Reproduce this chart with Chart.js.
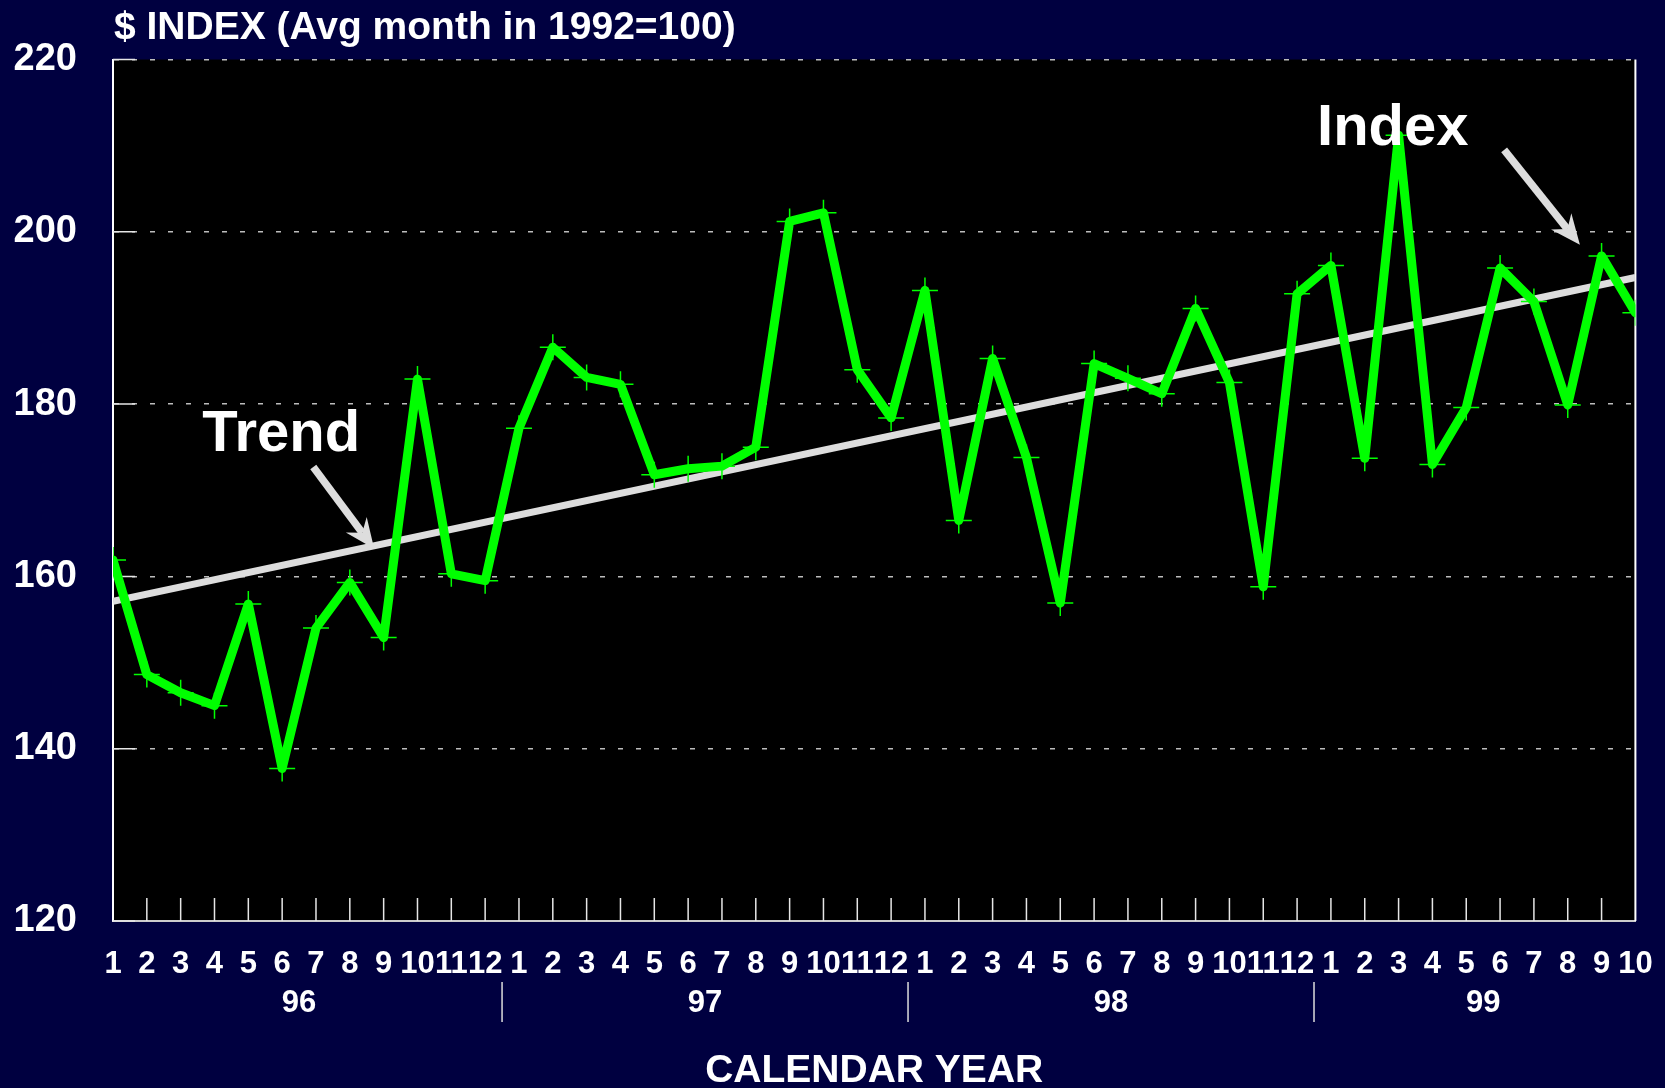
<!DOCTYPE html>
<html lang="en">
<head>
  <meta charset="utf-8">
  <title>$ INDEX</title>
  <script src="https://cdn.jsdelivr.net/npm/chart.js@4.4.1/dist/chart.umd.min.js"></script>
  <style>
    html, body { margin: 0; padding: 0; background: #000040; }
    #wrap { width: 1665px; height: 1088px; }
  </style>
</head>
<body>
<div id="wrap"><canvas id="grafico" width="1665" height="1088"></canvas></div>
<script>
// month number under each point, Jan 96 .. Oct 99
const monthLabels = [
  '1','2','3','4','5','6','7','8','9','10','11','12',
  '1','2','3','4','5','6','7','8','9','10','11','12',
  '1','2','3','4','5','6','7','8','9','10','11','12',
  '1','2','3','4','5','6','7','8','9','10'
];
const yearLabels = ['96', '97', '98', '99'];

// monthly $ index (avg month in 1992 = 100)
const indexValues = [
  161.9, 148.6, 146.5, 145.0, 156.8, 137.7, 154.0, 159.3, 152.9, 182.9, 160.3, 159.5,
  177.2, 186.6, 183.1, 182.3, 171.8, 172.5, 172.8, 175.0, 201.2, 202.2, 184.0, 178.4,
  193.2, 166.5, 185.3, 173.8, 156.9, 184.7, 183.0, 181.2, 191.1, 182.5, 158.8, 192.8,
  196.1, 173.7, 211.2, 173.0, 179.6, 195.8, 191.9, 179.9, 197.2, 190.6
];

// straight trend line, first and last month
const trendStart = 157.1;
const trendEnd = 194.7;

const yTicks = [120, 140, 160, 180, 200, 220];

const FONT = "'Liberation Sans', Arial, Helvetica, sans-serif";

// callouts, placed in axis units (month index, index value)
const callouts = [
  { text: 'Trend', at: [2.64, 174.6], tail: [5.92, 172.7], tip: [7.72, 163.2] },
  { text: 'Index', at: [35.59, 210.1], tail: [41.12, 209.5], tip: [43.36, 198.5] }
];

function drawArrow(ctx, x1, y1, x2, y2) {
  const ang = Math.atan2(y2 - y1, x2 - x1);
  const len = 30, half = 13, notch = 10;
  const bx = x2 - Math.cos(ang) * len, by = y2 - Math.sin(ang) * len;
  const nx = x2 - Math.cos(ang) * (len - notch), ny = y2 - Math.sin(ang) * (len - notch);
  ctx.lineWidth = 7.5;
  ctx.beginPath();
  ctx.moveTo(x1, y1);
  ctx.lineTo(nx, ny);
  ctx.stroke();
  ctx.beginPath();
  ctx.moveTo(x2, y2);
  ctx.lineTo(bx + Math.sin(ang) * half, by - Math.cos(ang) * half);
  ctx.lineTo(nx, ny);
  ctx.lineTo(bx - Math.sin(ang) * half, by + Math.cos(ang) * half);
  ctx.closePath();
  ctx.fill();
}

const decor = {
  id: 'decor',
  beforeDraw(chart) {
    const { ctx, chartArea: a } = chart;
    ctx.save();
    ctx.fillStyle = '#000040';
    ctx.fillRect(0, 0, chart.width, chart.height);
    ctx.fillStyle = '#000000';
    ctx.fillRect(a.left, a.top, a.right - a.left, a.bottom - a.top);
    ctx.restore();
  },
  beforeDatasetsDraw(chart) {
    const { ctx, chartArea: a, scales: { x, y } } = chart;
    ctx.save();
    ctx.strokeStyle = '#e6e6e6';
    ctx.lineWidth = 1.5;
    ctx.beginPath();
    // month ticks rising from the bottom edge
    for (let i = 1; i < monthLabels.length - 1; i++) {
      const px = x.getPixelForValue(i);
      ctx.moveTo(px, a.bottom);
      ctx.lineTo(px, a.bottom - 23);
    }
    // short solid ticks on the left edge
    yTicks.forEach(v => {
      const py = y.getPixelForValue(v);
      ctx.moveTo(a.left, py);
      ctx.lineTo(a.left + 22, py);
    });
    ctx.stroke();
    // right frame
    ctx.strokeStyle = '#ffffff';
    ctx.lineWidth = 2;
    ctx.beginPath();
    ctx.moveTo(a.right, a.top);
    ctx.lineTo(a.right, a.bottom);
    ctx.stroke();

    // year names under the months, with separators
    ctx.fillStyle = '#ffffff';
    ctx.font = 'bold 31px ' + FONT;
    ctx.textAlign = 'center';
    ctx.textBaseline = 'middle';
    ctx.strokeStyle = '#dddddd';
    ctx.lineWidth = 1.5;
    let first = 0;
    yearLabels.forEach((yr, k) => {
      let last = first;
      while (last + 1 < monthLabels.length && monthLabels[last + 1] !== '1') last++;
      const cx = (x.getPixelForValue(first) + x.getPixelForValue(last)) / 2;
      ctx.fillText(yr, cx, 1003);
      if (k > 0) {
        const sx = x.getPixelForValue(first - 0.5);
        ctx.beginPath();
        ctx.moveTo(sx, 982);
        ctx.lineTo(sx, 1022);
        ctx.stroke();
      }
      first = last + 1;
    });

    // heading
    ctx.textAlign = 'left';
    ctx.font = 'bold 39px ' + FONT;
    ctx.fillText('$ INDEX (Avg month in 1992=100)', 114, 28);
    ctx.restore();
  },
  afterDatasetsDraw(chart) {
    const { ctx, scales: { x, y } } = chart;
    ctx.save();
    ctx.font = 'bold 58px ' + FONT;
    ctx.textAlign = 'left';
    ctx.textBaseline = 'alphabetic';
    callouts.forEach(c => {
      ctx.fillStyle = '#ffffff';
      ctx.fillText(c.text, x.getPixelForValue(c.at[0]), y.getPixelForValue(c.at[1]));
      ctx.strokeStyle = '#dddddd';
      ctx.fillStyle = '#dddddd';
      drawArrow(ctx,
        x.getPixelForValue(c.tail[0]), y.getPixelForValue(c.tail[1]),
        x.getPixelForValue(c.tip[0]), y.getPixelForValue(c.tip[1]));
    });
    ctx.restore();
  }
};

new Chart(document.getElementById('grafico'), {
  type: 'line',
  data: {
    datasets: [
      {
        label: 'Index',
        data: indexValues.map((v, i) => ({ x: i, y: v })),
        borderColor: '#00ff00',
        borderWidth: 9,
        borderJoinStyle: 'round',
        borderCapStyle: 'round',
        pointStyle: 'cross',
        pointRadius: 13,
        pointBorderWidth: 1.5,
        pointBorderColor: '#00ff00',
        tension: 0
      },
      {
        label: 'Trend',
        data: [{ x: 0, y: trendStart }, { x: monthLabels.length - 1, y: trendEnd }],
        borderColor: '#dddddd',
        borderWidth: 7,
        pointRadius: 0,
        tension: 0
      }
    ]
  },
  options: {
    responsive: false,
    animation: false,
    devicePixelRatio: 1,
    layout: { padding: { top: 59.5, right: 29.6, left: 0, bottom: 0 } },
    plugins: { legend: { display: false }, tooltip: { enabled: false } },
    scales: {
      x: {
        type: 'linear',
        min: 0,
        max: monthLabels.length - 1,
        afterFit: s => { s.height = 167; s.paddingLeft = 0; s.paddingRight = 0; },
        grid: { display: false, drawTicks: false },
        border: { display: true, color: '#cccccc', width: 2 },
        ticks: {
          stepSize: 1,
          autoSkip: false,
          maxTicksLimit: 100,
          maxRotation: 0,
          padding: 25,
          color: '#ffffff',
          font: { family: FONT, size: 31, weight: 'bold' },
          callback: v => monthLabels[v]
        },
        title: {
          display: true,
          text: 'CALENDAR YEAR',
          color: '#ffffff',
          font: { family: FONT, size: 39, weight: 'bold', lineHeight: 0.8 },
          padding: { top: 0, bottom: 1 }
        }
      },
      y: {
        min: 120,
        max: 220,
        afterFit: s => { s.width = 113; s.paddingTop = 0; s.paddingBottom = 0; },
        afterBuildTicks: s => { s.ticks = yTicks.map(v => ({ value: v })); },
        grid: { color: '#bdbdbd', lineWidth: 1.5, drawTicks: false },
        border: { display: true, color: '#ffffff', width: 2, dash: [5, 13] },
        ticks: {
          padding: 36,
          color: '#ffffff',
          font: { family: FONT, size: 38, weight: 'bold' }
        }
      }
    }
  },
  plugins: [decor]
});
</script>
</body>
</html>
